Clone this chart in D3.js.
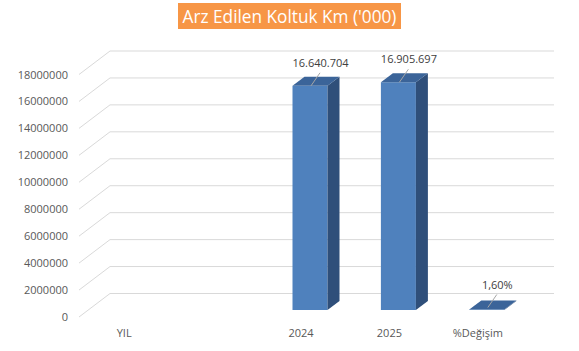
<!DOCTYPE html>
<html>
<head>
<meta charset="utf-8">
<script src="https://cdn.jsdelivr.net/npm/d3@7/dist/d3.min.js"></script>
<style>
  html, body { margin: 0; padding: 0; background: #fff; }
  svg { display: block; }
  text { font-family: "Open Sans", "Noto Sans", sans-serif; }
</style>
</head>
<body>
<svg id="chart" width="579" height="351"></svg>
<script>
// ---- data ----
const title = "Arz Edilen Koltuk Km ('000)";
const categories = ["YIL", "", "2024", "2025", "%Değişim"];
const values = [null, null, 16640704, 16905697, 0.016];
const valueLabels = ["", "", "16.640.704", "16.905.697", "1,60%"];
const yTicks = [0, 2000000, 4000000, 6000000, 8000000, 10000000, 12000000, 14000000, 16000000, 18000000];

// ---- layout ----
const W = 579, H = 351;
const svg = d3.select("#chart");
const depthX = 30, depthY = -23.5;     // floor depth (front -> back wall)
const barOffX = 9, barOffY = -7;       // bar placement inside depth
const barDX = 12, barDY = -9;          // bar own depth
const barW = 35;

const x = d3.scaleBand().domain(categories).range([80, 522]);
const y = d3.scaleLinear().domain([0, 18000000]).range([317, 74.5]);

// gridlines: back wall + left wall diagonal
const grid = svg.append("g");
yTicks.forEach(t => {
  const yy = y(t);
  grid.append("line")
    .attr("x1", x.range()[0] - 1).attr("y1", yy)
    .attr("x2", x.range()[0] + depthX).attr("y2", yy + depthY)
    .attr("stroke", "#D9D9D9").attr("stroke-width", 1);
  grid.append("line")
    .attr("x1", x.range()[0] + depthX).attr("y1", yy + depthY)
    .attr("x2", x.range()[1] + depthX + 2).attr("y2", yy + depthY)
    .attr("stroke", "#D9D9D9").attr("stroke-width", 1);
});

// y-axis labels
svg.append("g").selectAll("text").data(yTicks).join("text")
  .attr("x", 68).attr("y", d => y(d) + 4)
  .attr("text-anchor", "end")
  .attr("font-size", 11).attr("fill", "#595959")
  .text(d => d3.format("d")(d));

// category labels
svg.append("g").selectAll("text").data(categories).join("text")
  .attr("x", d => x(d) + x.bandwidth() / 2)
  .attr("y", 337)
  .attr("text-anchor", "middle")
  .attr("font-size", 11).attr("fill", "#595959")
  .text(d => d);

// bars
const bars = svg.append("g");
const labels = svg.append("g");
categories.forEach((c, i) => {
  const v = values[i];
  if (v === null) return;
  const cx = x(c) + x.bandwidth() / 2 + barOffX;
  const x0 = cx - barW / 2, x1 = cx + barW / 2;
  const yb = y(0) + barOffY;
  const yt = Math.min(y(v) + barOffY, yb - 0.5);
  // front
  bars.append("rect").attr("x", x0).attr("y", yt).attr("width", barW).attr("height", yb - yt)
    .attr("fill", "#4F81BD");
  // side
  bars.append("path")
    .attr("d", `M${x1},${yt}L${x1 + barDX},${yt + barDY}L${x1 + barDX},${yb + barDY}L${x1},${yb}Z`)
    .attr("fill", "#2F4F7A");
  // top
  bars.append("path")
    .attr("d", `M${x0},${yt}L${x0 + barDX},${yt + barDY}L${x1 + barDX},${yt + barDY}L${x1},${yt}Z`)
    .attr("fill", "#3B6499");
  // leader + label
  const lx = cx + 1, ly = yt - (yb - yt < 2 ? 2 : 0);
  labels.append("line")
    .attr("x1", lx).attr("y1", ly)
    .attr("x2", cx + 10).attr("y2", ly - 13)
    .attr("stroke", "#A6A6A6").attr("stroke-width", 1);
  labels.append("text")
    .attr("x", cx + 10.5).attr("y", ly - 19)
    .attr("text-anchor", "middle")
    .attr("font-size", 11).attr("fill", "#404040")
    .text(valueLabels[i]);
});

// title
const tg = svg.append("g");
const tBox = tg.append("rect").attr("fill", "#F79646");
const tText = tg.append("text")
  .attr("x", 290).attr("y", 23)
  .attr("text-anchor", "middle")
  .attr("font-size", 18).attr("fill", "#FFFFFF")
  .text(title);
let tw = tText.node().getComputedTextLength();
const fs = 18 * 214 / tw;
tText.attr("font-size", fs);
tw = tText.node().getComputedTextLength();
tBox.attr("x", 178).attr("y", 3).attr("width", 223).attr("height", 26);
tText.attr("x", 178 + 223 / 2);
</script>
</body>
</html>
